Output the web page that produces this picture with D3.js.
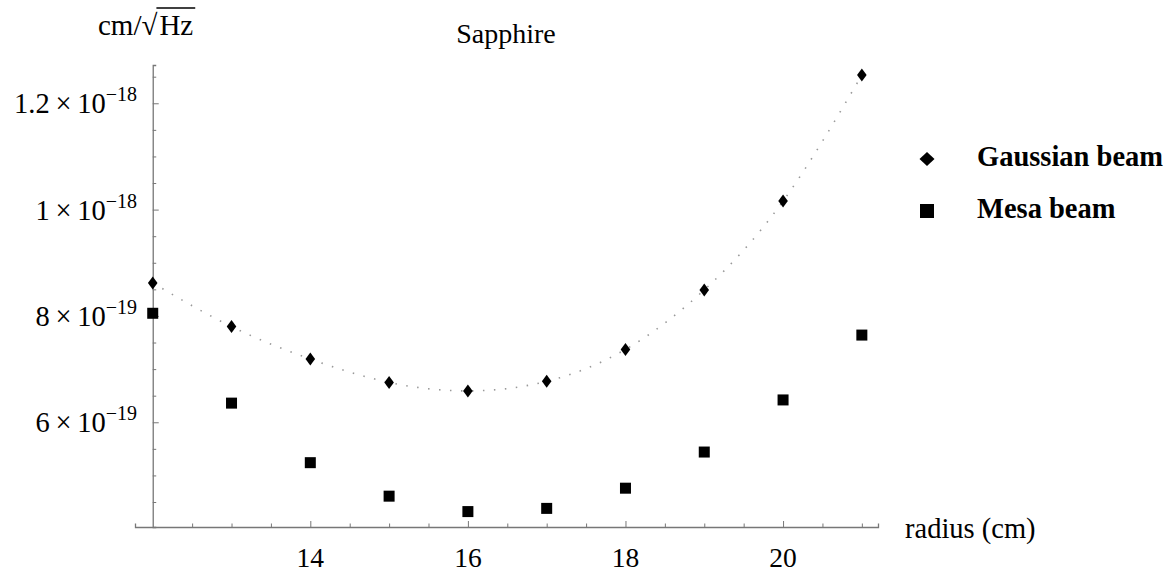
<!DOCTYPE html>
<html>
<head>
<meta charset="utf-8">
<script src="https://cdn.jsdelivr.net/npm/d3@7"></script>
<style>
  body { margin: 0; background: #fff; }
  svg { display: block; font-family: "Liberation Serif", "Times New Roman", serif; }
</style>
</head>
<body>
<svg id="chart"></svg>
<script>
// data (noise in cm/sqrt(Hz) against mirror radius in cm)
var radius = [12, 13, 14, 15, 16, 17, 18, 19, 20, 21];
var gaussian = [8.62e-19, 7.80e-19, 7.19e-19, 6.75e-19, 6.59e-19, 6.77e-19, 7.37e-19, 8.49e-19, 10.16e-19, 12.53e-19];
var mesa = [8.05e-19, 6.36e-19, 5.24e-19, 4.61e-19, 4.32e-19, 4.38e-19, 4.76e-19, 5.44e-19, 6.42e-19, 7.64e-19];
var xTickLabels = [14, 16, 18, 20];
var yTickLabels = [{ v: 6e-19, m: "6", e: "19" }, { v: 8e-19, m: "8", e: "19" }, { v: 1e-18, m: "1", e: "18" }, { v: 1.2e-18, m: "1.2", e: "18" }];
var legendItems = [{ name: "Gaussian beam", shape: "diamond" }, { name: "Mesa beam", shape: "square" }];

var width = 1172, height = 572;
var svg = d3.select("#chart").attr("width", width).attr("height", height);

var xScale = d3.scaleLinear().domain([11.775, 21.205]).range([135, 878]);
var yScale = d3.scaleLinear().domain([4.03e-19, 12.72e-19]).range([527, 65]);

var axisColor = "#777";

// x axis
var xAxisY = yScale(yScale.domain()[0]);
var xMinor = d3.range(12.5, 21.01, 0.5).filter(d => xTickLabels.indexOf(d) < 0);
svg.append("g")
  .attr("transform", "translate(0," + xAxisY + ")")
  .call(d3.axisTop(xScale).tickValues(xMinor).tickSize(3.5).tickFormat(""))
  .call(g => g.select(".domain").attr("stroke", axisColor).attr("stroke-width", 1.3))
  .call(g => g.selectAll(".tick line").attr("stroke", axisColor));

svg.append("g")
  .attr("transform", "translate(0," + xAxisY + ")")
  .call(d3.axisTop(xScale).tickValues(xTickLabels).tickSize(6).tickFormat(""))
  .call(g => g.select(".domain").remove())
  .call(g => g.selectAll(".tick line").attr("stroke", axisColor));

svg.append("g")
  .selectAll("text")
  .data(xTickLabels)
  .enter()
  .append("text")
    .attr("x", d => xScale(d))
    .attr("y", 567)
    .attr("text-anchor", "middle")
    .attr("font-size", 27.5)
    .text(d => d);

// y axis
var yAxisX = xScale(12);
var yMinor = d3.range(4.5, 12.51, 0.5).map(d => d * 1e-19).filter(d => Math.abs(Math.round(d * 5e18) - d * 5e18) > 1e-6);
svg.append("g")
  .attr("transform", "translate(" + yAxisX + ",0)")
  .call(d3.axisRight(yScale).tickValues(yMinor).tickSize(3.5).tickFormat(""))
  .call(g => g.select(".domain").attr("stroke", axisColor).attr("stroke-width", 1.3))
  .call(g => g.selectAll(".tick line").attr("stroke", axisColor));

svg.append("g")
  .attr("transform", "translate(" + yAxisX + ",0)")
  .call(d3.axisRight(yScale).tickValues(yTickLabels.map(d => d.v)).tickSize(6).tickFormat(""))
  .call(g => g.select(".domain").remove())
  .call(g => g.selectAll(".tick line").attr("stroke", axisColor));

var yLab = svg.append("g")
  .selectAll("text")
  .data(yTickLabels)
  .enter()
  .append("text")
    .attr("x", 137)
    .attr("y", d => yScale(d.v) + 10)
    .attr("text-anchor", "end")
    .attr("font-size", 28.5);
yLab.append("tspan").text(d => d.m + "\u2009\u00d7\u200910");
yLab.append("tspan").attr("font-size", 20).attr("dy", -12).text(d => "\u2212" + d.e);

// axis labels and title
svg.append("text")
  .attr("x", 905).attr("y", 538)
  .attr("font-size", 28.5)
  .text("radius (cm)");

svg.append("text")
  .attr("x", 506).attr("y", 43)
  .attr("text-anchor", "middle")
  .attr("font-size", 28)
  .text("Sapphire");

var unit = svg.append("g");
var u1 = unit.append("text").attr("x", 98).attr("y", 35).attr("font-size", 29).text("cm/\u221a");
var w1 = u1.node().getComputedTextLength();
var u2 = unit.append("text").attr("x", 98 + w1 + 2).attr("y", 35).attr("font-size", 29).text("Hz");
var w2 = u2.node().getComputedTextLength();
unit.append("line")
  .attr("x1", 98 + w1 - 1).attr("x2", 98 + w1 + w2 + 4)
  .attr("y1", 8).attr("y2", 8)
  .attr("stroke", "#000").attr("stroke-width", 1.4);

// dotted fit through the gaussian points
var line = d3.line()
  .x((d, i) => xScale(radius[i]))
  .y(d => yScale(d))
  .curve(d3.curveNatural);

svg.append("path")
  .datum(gaussian)
  .attr("d", line)
  .attr("fill", "none")
  .attr("stroke", "#999")
  .attr("stroke-width", 1.6)
  .attr("stroke-dasharray", "1.5,9.5");

// markers
var diamond = "M0,-6.5L4.8,0L0,6.5L-4.8,0Z";
svg.append("g")
  .selectAll("path")
  .data(gaussian)
  .enter()
  .append("path")
    .attr("d", diamond)
    .attr("transform", (d, i) => "translate(" + xScale(radius[i]) + "," + yScale(d) + ")")
    .attr("fill", "#000");

svg.append("g")
  .selectAll("rect")
  .data(mesa)
  .enter()
  .append("rect")
    .attr("x", (d, i) => xScale(radius[i]) - 5.5)
    .attr("y", d => yScale(d) - 5.5)
    .attr("width", 11)
    .attr("height", 11)
    .attr("fill", "#000");

// legend
var legend = svg.append("g")
  .selectAll("g")
  .data(legendItems)
  .enter()
  .append("g")
    .attr("transform", (d, i) => "translate(927," + (159 + i * 52) + ")");

legend.filter(d => d.shape === "diamond")
  .append("path")
    .attr("d", "M0,-7L7.5,0L0,7L-7.5,0Z")
    .attr("fill", "#000");

legend.filter(d => d.shape === "square")
  .append("rect")
    .attr("x", -7).attr("y", -7)
    .attr("width", 14).attr("height", 14)
    .attr("fill", "#000");

legend.append("text")
  .attr("x", 50)
  .attr("y", 7)
  .attr("font-size", 28.5)
  .attr("font-weight", "bold")
  .text(d => d.name);
</script>
</body>
</html>
